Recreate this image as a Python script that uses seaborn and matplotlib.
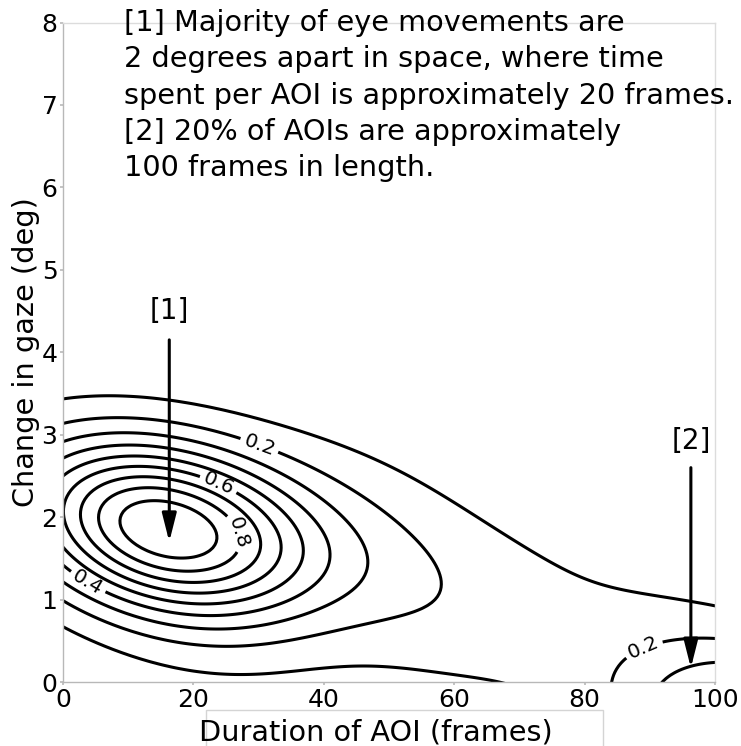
import numpy as np
import pandas as pd
import matplotlib
matplotlib.use("Agg")
import matplotlib.pyplot as plt
from matplotlib.contour import ContourSet
from matplotlib.patches import Rectangle
import seaborn as sns
from seaborn._statistics import KDE

sns.set_theme(style="white")
plt.rcParams["font.family"] = ["DejaVu Sans"]
plt.rcParams.update({"text.color": "black", "axes.labelcolor": "black",
                     "xtick.color": "black", "ytick.color": "black"})

# ---- data: weighted observations (duration in frames, change in gaze in deg)
duration = np.array([15.5, 44.0, 49.0, 62.0, 83.0, 24.0, 107.5, 129.46])
gaze = np.array([1.86, 2.60, 1.50, 0.50, 1.15, 0.10, -0.58, 14.0])
weight = np.array([1.0, 0.045, 0.13, 0.08, 0.055, 0.035, 0.52, 0.0321])

contour_levels = [0.1, 0.2, 0.3, 0.4, 0.5, 0.6, 0.7, 0.8, 0.9]
# (level index, approximate position) of the inline contour labels
label_idx = [1, 3, 5, 7, 1]
label_spots = [(30.5, 2.91), (3.9, 1.24), (24.1, 2.45), (27.3, 1.82), (87.9, 0.62)]

x_ticks = [0, 20, 40, 60, 80, 100]
y_ticks = [0, 1, 2, 3, 4, 5, 6, 7, 8]

note_text = ("[1] Majority of eye movements are\n"
             "2 degrees apart in space, where time\n"
             "spent per AOI is approximately 20 frames.\n"
             "[2] 20% of AOIs are approximately\n"
             "100 frames in length.")

df = pd.DataFrame({"duration": duration, "gaze": gaze, "weight": weight})

# bandwidth factor giving a kernel of ~15.5 frames along x
data_cov = np.cov(np.vstack([duration, gaze]), aweights=weight)
bw = 15.5 / np.sqrt(data_cov[0, 0])
grid_clip = ((-10, 115), (-1.5, 9.5))
gridsize = 300

# convert "fraction of peak density" levels into seaborn iso-proportions
kde = KDE(bw_method=bw, gridsize=gridsize, cut=3, clip=grid_clip)
density, _support = kde(df["duration"], df["gaze"], weights=df["weight"])
vals = np.sort(density.ravel())[::-1]
cum = np.cumsum(vals) / vals.sum()
peak = vals[0]
props = []
for lv in contour_levels:
    k = np.searchsorted(-vals, -lv * peak, side="right") - 1
    props.append(float(min(max(1 - cum[k], 0.0), 1.0)))
props = sorted(props)

fig = plt.figure(figsize=(7.41, 7.46), dpi=100)
ax = fig.add_axes([63 / 741, 1 - 682 / 746, (715 - 63) / 741, (682 - 22.5) / 746])

sns.kdeplot(data=df, x="duration", y="gaze", weights="weight", bw_method=bw,
            gridsize=gridsize, cut=3, clip=grid_clip, levels=props,
            color="black", linewidths=2.2, ax=ax)

ax.set_xlim(0, 100)
ax.set_ylim(0, 8)

cs = [c for c in ax.collections if isinstance(c, ContourSet)][0]
paths = cs.get_paths()
manual_pts = []
for li, (sx, sy) in zip(label_idx, label_spots):
    verts = paths[li].vertices
    disp = ax.transData.transform(verts)
    target = ax.transData.transform((sx, sy))
    j = int(np.argmin(((disp - target) ** 2).sum(axis=1)))
    manual_pts.append(tuple(verts[j]))
fmt = {lev: f"{contour_levels[i]:.1f}" for i, lev in enumerate(cs.levels)}
ax.clabel(cs, fmt=fmt, fontsize=14.5, inline=True, inline_spacing=4,
          manual=manual_pts)

ax.set_xticks(x_ticks)
ax.set_yticks(y_ticks)
ax.tick_params(axis="both", labelsize=18, length=2, pad=2, color="#bbbbbb",
               labelcolor="black", left=True, bottom=True)
for side in ["left", "bottom"]:
    ax.spines[side].set_color("#b8b8b8")
for side in ["top", "right"]:
    ax.spines[side].set_color("#dcdcdc")
for sp in ax.spines.values():
    sp.set_linewidth(1.0)

ax.set_xlabel("Duration of AOI (frames)", fontsize=20.7, color="black")
ax.set_ylabel("Change in gaze (deg)", fontsize=20.7, color="black")
ax.xaxis.set_label_coords(0.48, -0.055)
ax.yaxis.set_label_coords(-0.036, 0.5)

# annotations
arrow_kw = dict(arrowstyle="-|>,head_length=0.95,head_width=0.24", color="black",
                lw=2.2, shrinkA=0, shrinkB=0, mutation_scale=18)
ax.annotate("", xy=(16.3, 1.70), xytext=(16.3, 4.15), arrowprops=arrow_kw)
ax.annotate("", xy=(96.3, 0.17), xytext=(96.3, 2.60), arrowprops=arrow_kw)
ax.text(16.3, 4.5, "[1]", ha="center", va="center", fontsize=20, color="black")
ax.text(96.3, 2.92, "[2]", ha="center", va="center", fontsize=20, color="black")
ax.text(9.3, 8.16, note_text, ha="left", va="top", fontsize=20.7,
        linespacing=1.37, color="black", clip_on=False)

# light frame behind the x label
fig.patches.append(Rectangle((206 / 741, -0.05), (603 - 206) / 741, 0.05 + (746 - 710) / 746,
                             transform=fig.transFigure, facecolor="none",
                             edgecolor="#d4d4d4", lw=1.0, zorder=-1))

fig.savefig("out.png", dpi=100)
